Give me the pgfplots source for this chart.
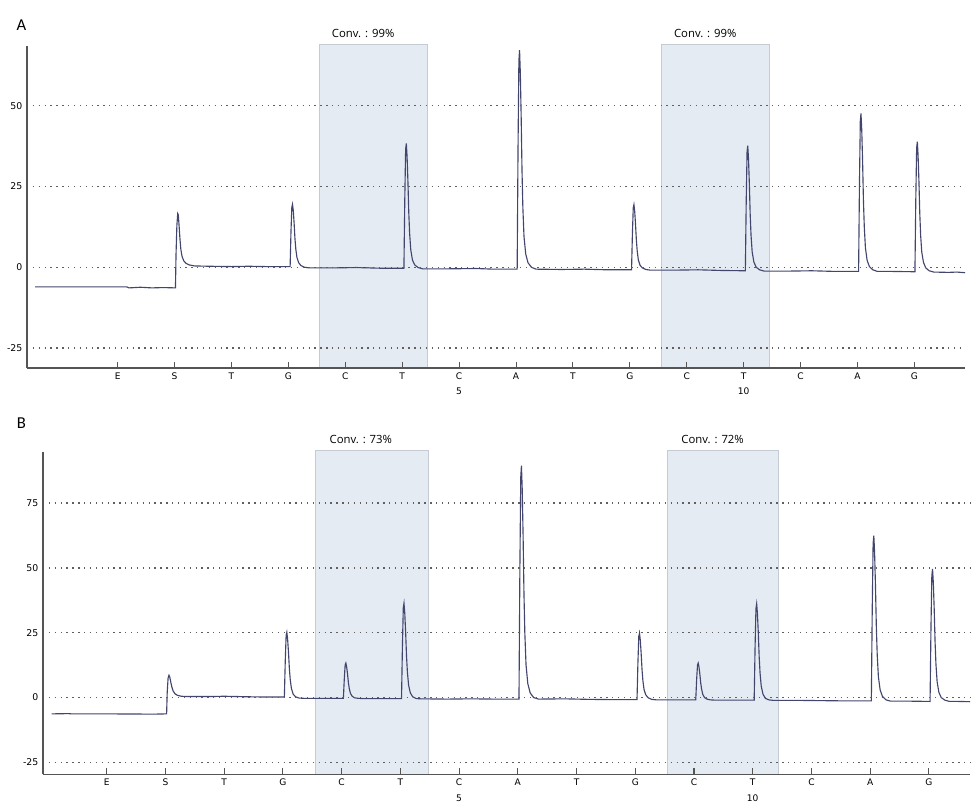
\documentclass[border=0pt]{standalone}
\usepackage{pgfplots}
\pgfplotsset{compat=1.18}
\usepackage{fontspec}
\setmainfont{DejaVu Sans}
\newfontfamily\convfont{Open Sans}
\newfontfamily\panelfont{Carlito}
\definecolor{trace}{RGB}{66,70,108}
\definecolor{shade}{RGB}{228,235,243}
\definecolor{shadeedge}{RGB}{196,203,211}
\definecolor{axisgray}{RGB}{85,85,85}
\definecolor{gridgray}{RGB}{95,95,95}
\pgfplotsset{pyro/.style={
  scale only axis,
  axis on top,
  axis x line=bottom, axis y line=left,
  axis line style={-, axisgray, line width=1pt},
  xtick={1,...,15},
  xticklabels={E,S,T,G,C,T,{C\\[3.2pt]5},A,T,G,C,{T\\[3.2pt]10},C,A,G},
  xticklabel style={align=center, font=\fontsize{6.8}{8.4}\selectfont},
  yticklabel style={font=\fontsize{7}{8.4}\selectfont},
  /pgf/number format/assume math mode=true,
  tick align=inside,
  major tick length=4.5pt,
  xtick style={axisgray, line width=0.8pt},
  ytick style={draw=none},
  ymajorgrids,
  grid style={gridgray, line width=1pt, dash pattern=on 1pt off 3.4pt},
  clip=false,
}}
\begin{document}
\begin{tikzpicture}
\useasboundingbox (0,0) rectangle (728.25pt,601.5pt);
\node[font=\panelfont\fontsize{12.5}{14}\selectfont] at (16.1pt,582.75pt) {A};
\node[font=\panelfont\fontsize{12.5}{14}\selectfont] at (16.1pt,284.25pt) {B};
% ---------------- Panel A ----------------
\begin{axis}[pyro, at={(20.25pt,325.5pt)}, anchor=south west,
  width=703.5pt, height=241.5pt,
  xmin=-0.594, xmax=15.89, ymin=-31.2, ymax=68.5,
  ytick={-25,0,25,50}]
\addplot[fill=shade, draw=shadeedge, line width=0.6pt] coordinates {(4.55,-31.2) (4.55,69) (6.45,69) (6.45,-31.2) (4.55,-31.2)};
\addplot[fill=shade, draw=shadeedge, line width=0.6pt] coordinates {(10.55,-31.2) (10.55,69) (12.45,69) (12.45,-31.2) (10.55,-31.2)};
\node[font=\convfont\fontsize{8.5}{10}\selectfont, anchor=base west, inner sep=0pt, xshift=9pt, yshift=5.5pt] at (axis cs:4.55,69) {Conv. : 99\%};
\node[font=\convfont\fontsize{8.5}{10}\selectfont, anchor=base west, inner sep=0pt, xshift=9.5pt, yshift=5.5pt] at (axis cs:10.55,69) {Conv. : 99\%};
\addplot[trace, line width=0.85pt] coordinates {
(-0.45,-6.1) (0.5,-6.1) (1.16,-6.1) (1.2,-6.4) (1.4,-6.2) (1.6,-6.4) (1.8,-6.3) (2.015,-6.4)
(2.025,4) (2.04,13) (2.055,16.6) (2.065,16.2) (2.08,12.5) (2.095,8.5) (2.11,5.5) (2.13,3.4) (2.16,2.0) (2.2,1.2) (2.26,0.7) (2.35,0.4)
(2.6,0.3) (3.0,0.2) (3.3,0.3) (3.6,0.2) (4.03,0.2)
(4.045,11) (4.06,18.6) (4.072,19.5) (4.085,17.6) (4.1,13.7) (4.115,8.8) (4.13,5.6) (4.15,3.0) (4.18,1.4) (4.22,0.5) (4.28,0.0) (4.36,-0.2)
(4.8,-0.2) (5.2,-0.1) (5.6,-0.3) (6.03,-0.3)
(6.045,21) (6.06,36.6) (6.072,38.3) (6.085,34.4) (6.1,26.7) (6.115,17.0) (6.13,10.5) (6.15,5.4) (6.18,2.2) (6.22,0.7) (6.28,-0.1) (6.36,-0.5)
(6.8,-0.5) (7.3,-0.4) (7.6,-0.6) (8.02,-0.6)
(8.035,36.7) (8.05,63.8) (8.062,67.2) (8.075,60.4) (8.09,46.9) (8.105,29.9) (8.12,18.4) (8.14,9.5) (8.17,4.1) (8.21,1.4) (8.27,0.0) (8.35,-0.6)
(8.8,-0.7) (9.2,-0.6) (9.6,-0.8) (10.03,-0.8)
(10.045,10.3) (10.06,18.4) (10.072,19.4) (10.085,17.4) (10.1,13.3) (10.115,8.3) (10.13,4.9) (10.15,2.2) (10.18,0.6) (10.22,-0.2) (10.28,-0.7) (10.36,-0.9)
(10.8,-0.9) (11.2,-0.8) (11.6,-1.0) (12.03,-1.1)
(12.045,20.2) (12.06,35.7) (12.072,37.6) (12.085,33.7) (12.1,26.0) (12.115,16.3) (12.13,9.8) (12.15,4.7) (12.18,1.6) (12.22,0.0) (12.28,-0.8) (12.36,-1.2)
(12.8,-1.2) (13.2,-1.1) (13.6,-1.3) (14.02,-1.3)
(14.035,25.6) (14.05,45.2) (14.062,47.6) (14.075,42.7) (14.09,33.0) (14.105,20.7) (14.12,12.5) (14.14,6.0) (14.17,2.1) (14.21,0.2) (14.27,-0.8) (14.35,-1.3)
(14.6,-1.3) (15.01,-1.4)
(15.025,20.8) (15.04,36.9) (15.052,38.9) (15.065,34.8) (15.08,26.8) (15.095,16.8) (15.11,10.0) (15.13,4.7) (15.16,1.5) (15.2,-0.2) (15.26,-1.1) (15.34,-1.5)
(15.6,-1.6) (15.75,-1.5) (15.89,-1.7)
};
\end{axis}
% ---------------- Panel B ----------------
\begin{axis}[pyro, at={(32.25pt,20.8pt)}, anchor=south west,
  width=695.25pt, height=242pt,
  xmin=-0.085, xmax=15.70, ymin=-29.6, ymax=94.9,
  ytick={-25,0,25,50,75}]
\addplot[fill=shade, draw=shadeedge, line width=0.6pt] coordinates {(4.553,-29.6) (4.553,95.3) (6.47,95.3) (6.47,-29.6) (4.553,-29.6)};
\addplot[fill=shade, draw=shadeedge, line width=0.6pt] coordinates {(10.555,-29.6) (10.555,95.3) (12.44,95.3) (12.44,-29.6) (10.555,-29.6)};
\node[font=\convfont\fontsize{8.5}{10}\selectfont, anchor=base west, inner sep=0pt, xshift=10.5pt, yshift=5.3pt] at (axis cs:4.553,95.3) {Conv. : 73\%};
\node[font=\convfont\fontsize{8.5}{10}\selectfont, anchor=base west, inner sep=0pt, xshift=10pt, yshift=5.3pt] at (axis cs:10.555,95.3) {Conv. : 72\%};
\addplot[trace, line width=0.85pt] coordinates {
(0.063,-6.3) (0.35,-6.2) (0.4,-6.3) (1.0,-6.3) (1.8,-6.4) (2.02,-6.3)
(2.03,2) (2.045,7.5) (2.06,8.6) (2.075,7.8) (2.09,6.0) (2.11,4.0) (2.13,2.6) (2.16,1.5) (2.2,0.9) (2.27,0.5) (2.35,0.4)
(2.8,0.4) (3.0,0.5) (3.4,0.3) (3.7,0.2) (4.025,0.2)
(4.04,14) (4.055,24.0) (4.067,25.2) (4.08,22.6) (4.095,17.6) (4.11,11.2) (4.125,6.9) (4.145,3.5) (4.175,1.3) (4.215,0.3) (4.275,-0.2) (4.355,-0.3)
(4.7,-0.3) (5.03,-0.3)
(5.045,7) (5.06,12.6) (5.072,13.3) (5.085,11.9) (5.1,9.2) (5.115,5.8) (5.13,3.5) (5.15,1.6) (5.18,0.5) (5.22,-0.1) (5.28,-0.3) (5.36,-0.4)
(5.7,-0.4) (6.02,-0.4)
(6.035,19.6) (6.05,34.6) (6.062,36.4) (6.075,32.7) (6.09,25.2) (6.105,16.0) (6.12,9.8) (6.14,4.8) (6.17,1.8) (6.21,0.3) (6.27,-0.4) (6.35,-0.5)
(6.8,-0.6) (7.2,-0.5) (7.6,-0.6) (8.02,-0.6)
(8.035,49) (8.05,85) (8.062,89.5) (8.075,80.5) (8.09,62.5) (8.105,39.9) (8.12,24.6) (8.14,12.6) (8.17,5.4) (8.21,1.8) (8.27,0.0) (8.35,-0.6)
(8.8,-0.5) (9.2,-0.7) (9.6,-0.8) (10.03,-0.8)
(10.045,13.3) (10.06,23.6) (10.072,24.9) (10.085,22.3) (10.1,17.2) (10.115,10.8) (10.13,6.5) (10.15,3.0) (10.18,1.0) (10.22,-0.1) (10.28,-0.7) (10.36,-0.9)
(10.7,-0.9) (11.03,-0.9)
(11.045,6.9) (11.06,12.6) (11.072,13.3) (11.085,11.8) (11.1,9.0) (11.115,5.5) (11.13,3.2) (11.15,1.2) (11.18,0.0) (11.22,-0.6) (11.28,-0.9) (11.36,-1.0)
(11.7,-1.0) (12.025,-1.0)
(12.04,19.4) (12.055,34.3) (12.067,36.2) (12.08,32.5) (12.095,25.0) (12.11,15.7) (12.125,9.4) (12.145,4.4) (12.175,1.3) (12.215,-0.3) (12.275,-0.9) (12.355,-1.1)
(12.8,-1.1) (13.2,-1.2) (13.6,-1.3) (14.02,-1.3)
(14.035,33.8) (14.05,59.3) (14.062,62.5) (14.075,56.1) (14.09,43.4) (14.105,27.3) (14.12,16.5) (14.14,8.0) (14.17,2.9) (14.21,0.4) (14.27,-0.9) (14.35,-1.4)
(14.7,-1.4) (15.02,-1.5)
(15.035,26.6) (15.05,47.0) (15.062,49.6) (15.075,44.5) (15.09,34.3) (15.105,21.5) (15.12,12.9) (15.14,6.1) (15.17,2.0) (15.21,0.0) (15.27,-1.0) (15.35,-1.5)
(15.5,-1.5) (15.7,-1.6)
};
\end{axis}
\end{tikzpicture}
\end{document}
